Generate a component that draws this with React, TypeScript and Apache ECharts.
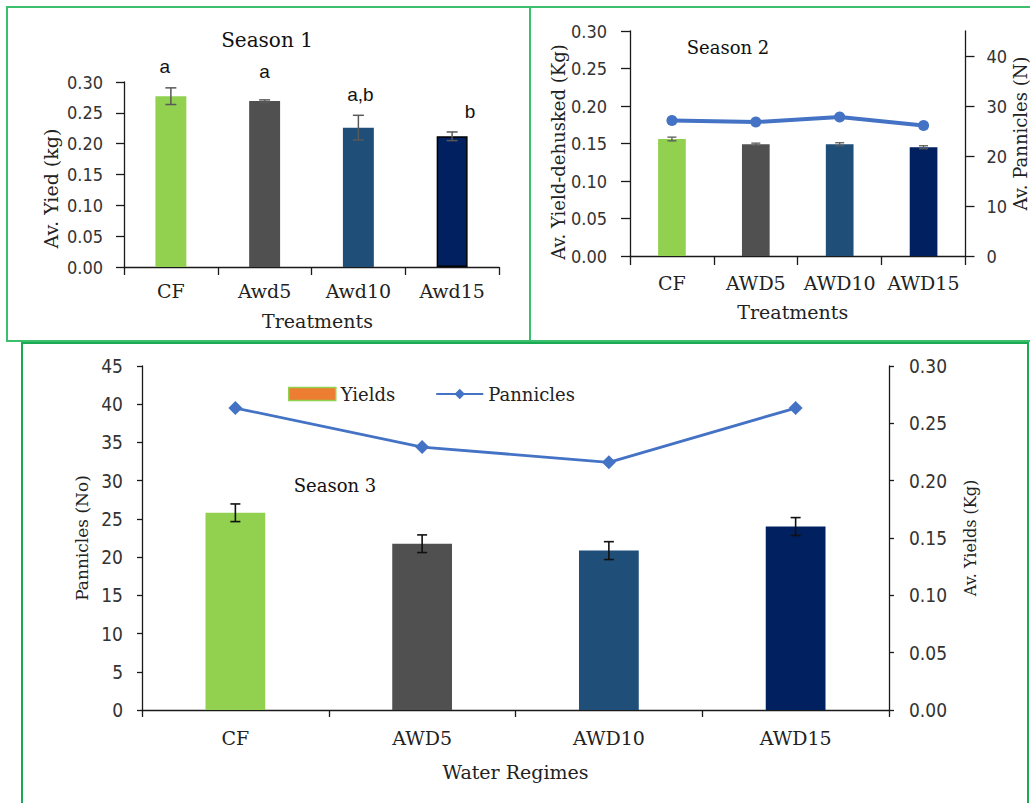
import React, { useEffect, useRef } from 'react';
import * as echarts from 'echarts';

// ---------- data ----------
const s1Categories = ['CF', 'Awd5', 'Awd10', 'Awd15'];
const s1Yield = [0.277, 0.269, 0.226, 0.212];
const s1Error = [0.0135, 0.002, 0.02, 0.007];
const s1Letters = ['a', 'a', 'a,b', 'b'];

const s2Categories = ['CF', 'AWD5', 'AWD10', 'AWD15'];
const s2Yield = [0.156, 0.149, 0.149, 0.145];
const s2Error = [0.0025, 0.0015, 0.002, 0.002];
const s2Panicles = [27.1, 26.8, 27.8, 26.1];

const s3Categories = ['CF', 'AWD5', 'AWD10', 'AWD15'];
const s3Yield = [0.172, 0.145, 0.139, 0.16];
const s3Error = [0.0077, 0.0077, 0.0078, 0.0078];
const s3Panicles = [39.5, 34.4, 32.4, 39.5];

const yieldTicks = [0, 0.05, 0.1, 0.15, 0.2, 0.25, 0.3];
const s2PanicleTicks = [0, 10, 20, 30, 40];

// ---------- styles ----------
const barColors = ['#92D050', '#505050', '#1F4E79', '#002060'];
const LINE_BLUE = '#4472C4';
const SANS_C = '"DejaVu Sans Condensed", "DejaVu Sans", sans-serif';
const SERIF = '"DejaVu Serif", serif';
const AXIS_COLOR = '#1a1a1a';

const errorBars = (xIdx: number, yIdx: number, values: number[], errs: number[], color: string, cap: number, lw: number) => ({
  type: 'custom',
  xAxisIndex: xIdx,
  yAxisIndex: yIdx,
  z: 5,
  silent: true,
  encode: { x: 0, y: [1, 2] },
  data: values.map((v, i) => [i, v - errs[i], v + errs[i]]),
  renderItem: (params: any, api: any) => {
    const x = api.value(0);
    const lo = api.coord([x, api.value(1)]);
    const hi = api.coord([x, api.value(2)]);
    const w = cap / 2;
    const style = { stroke: color, lineWidth: lw };
    return {
      type: 'group',
      children: [
        { type: 'line', shape: { x1: lo[0], y1: lo[1], x2: hi[0], y2: hi[1] }, style },
        { type: 'line', shape: { x1: lo[0] - w, y1: lo[1], x2: lo[0] + w, y2: lo[1] }, style },
        { type: 'line', shape: { x1: hi[0] - w, y1: hi[1], x2: hi[0] + w, y2: hi[1] }, style },
      ],
    };
  },
});

const valueAxis = (o: any) => ({
  type: 'value',
  splitLine: { show: false },
  axisLine: { show: true, lineStyle: { color: AXIS_COLOR, width: 1.3 } },
  axisTick: { show: true, length: o.tickLen ?? 8, lineStyle: { color: AXIS_COLOR, width: 1.3 } },
  nameLocation: 'middle',
  ...o.rest,
  axisLabel: {
    fontFamily: SANS_C,
    fontSize: o.fontSize ?? 18,
    color: '#333',
    margin: o.margin ?? 21,
    ...(o.axisLabel || {}),
  },
});

const catAxis = (o: any) => ({
  type: 'category',
  axisLine: { show: true, lineStyle: { color: AXIS_COLOR, width: 1.3 } },
  axisTick: { show: true, length: o.tickLen ?? 8, lineStyle: { color: AXIS_COLOR, width: 1.3 } },
  axisLabel: { interval: 0, fontFamily: SERIF, fontSize: 19, color: '#222', margin: o.margin ?? 14 },
  nameLocation: 'middle',
  ...o.rest,
});

export default function App() {
  const ref = useRef<HTMLDivElement>(null);

  useEffect(() => {
    if (!ref.current) return;
    const chart = echarts.init(ref.current, undefined, { renderer: 'svg' });

    const option: any = {
      animation: false,
      backgroundColor: '#ffffff',
      grid: [
        { left: 124, right: 1030 - 499, top: 82, bottom: 803 - 267 },
        { left: 630, right: 1030 - 971, top: 31, bottom: 803 - 256 },
        { left: 142, right: 1030 - 889, top: 366, bottom: 803 - 710 },
      ],
      legend: {
        left: 283,
        top: 380,
        itemWidth: 47,
        itemHeight: 13,
        itemGap: 40,
        textStyle: { fontFamily: SERIF, fontSize: 18, color: '#222' },
        data: [
          { name: 'Yields', icon: 'rect', itemStyle: { color: '#ED7D31', borderColor: '#92D050', borderWidth: 1.5 } },
          { name: 'Pannicles' },
        ],
      },
      xAxis: [
        catAxis({
          margin: 14,
          rest: {
            gridIndex: 0,
            data: s1Categories,
            name: 'Treatments',
            nameGap: 44,
            nameTextStyle: { fontFamily: SERIF, fontSize: 19, color: '#222', padding: [0, 0, 0, 12] },
          },
        }),
        catAxis({
          margin: 17,
          tickLen: 9,
          rest: {
            gridIndex: 1,
            data: s2Categories,
            name: 'Treatments',
            nameGap: 46,
            nameTextStyle: { fontFamily: SERIF, fontSize: 19, color: '#222', padding: [0, 10, 0, 0] },
          },
        }),
        catAxis({
          margin: 18,
          tickLen: 7,
          rest: {
            gridIndex: 2,
            data: s3Categories,
            name: 'Water Regimes',
            nameGap: 52,
            nameTextStyle: { fontFamily: SERIF, fontSize: 19, color: '#222' },
          },
        }),
      ],
      yAxis: [
        valueAxis({
          fontSize: 18,
          margin: 21,
          axisLabel: { formatter: (v: number) => v.toFixed(2), customValues: yieldTicks },
          rest: {
            gridIndex: 0,
            min: 0,
            max: 0.3,
            interval: 0.05,
            name: 'Av. Yied (kg)',
            nameGap: 64,
            nameTextStyle: { fontFamily: SERIF, fontSize: 19, color: '#222', padding: [0, 28, 0, 0] },
          },
        }),
        valueAxis({
          fontSize: 18,
          margin: 23,
          tickLen: 9,
          axisLabel: { formatter: (v: number) => v.toFixed(2), customValues: yieldTicks },
          rest: {
            gridIndex: 1,
            min: 0,
            max: 0.3,
            interval: 0.05,
            name: 'Av. Yield-dehusked (Kg)',
            nameGap: 63,
            nameTextStyle: { fontFamily: SERIF, fontSize: 18, color: '#222', padding: [0, 17, 0, 0] },
          },
        }),
        valueAxis({
          fontSize: 18,
          margin: 21,
          tickLen: 9,
          axisLabel: { customValues: s2PanicleTicks },
          rest: {
            gridIndex: 1,
            position: 'right',
            min: 0,
            max: 45,
            interval: 5,
            axisTick: { show: true, length: 9, customValues: s2PanicleTicks, lineStyle: { color: AXIS_COLOR, width: 1.3 } },
            name: 'Av. Pannicles (N)',
            nameGap: 45,
            nameTextStyle: { fontFamily: SERIF, fontSize: 18, color: '#222', padding: [0, 0, 0, 20] },
          },
        }),
        valueAxis({
          fontSize: 19,
          margin: 19,
          tickLen: 5,
          rest: {
            gridIndex: 2,
            min: 0,
            max: 45,
            interval: 5,
            name: 'Pannicles (No)',
            nameGap: 50,
            nameTextStyle: { fontFamily: SERIF, fontSize: 17, color: '#222' },
          },
        }),
        valueAxis({
          fontSize: 19,
          margin: 20,
          tickLen: 5,
          axisLabel: { formatter: (v: number) => v.toFixed(2) },
          rest: {
            gridIndex: 2,
            position: 'right',
            min: 0,
            max: 0.3,
            interval: 0.05,
            name: 'Av. Yields (Kg)',
            nameGap: 73,
            nameTextStyle: { fontFamily: SERIF, fontSize: 16, color: '#222' },
          },
        }),
      ],
      series: [
        {
          name: 'S1 Yield',
          type: 'bar',
          xAxisIndex: 0,
          yAxisIndex: 0,
          barWidth: '33%',
          label: {
            show: true,
            position: 'top',
            distance: 20,
            fontFamily: '"Liberation Sans", Arial, sans-serif',
            fontSize: 19,
            color: '#111',
            formatter: (p: any) => s1Letters[p.dataIndex],
          },
          data: s1Yield.map((v, i) => ({
            value: v,
            itemStyle: {
              color: barColors[i],
              borderColor: i === 3 ? '#000' : barColors[i],
              borderWidth: i === 3 ? 1.5 : 0,
            },
            label: { offset: [[-6, 0], [0, 0], [2, -4], [18, 5]][i] },
          })),
        },
        errorBars(0, 0, s1Yield, s1Error, '#595959', 11, 1.5),
        {
          name: 'S2 Yield',
          type: 'bar',
          xAxisIndex: 1,
          yAxisIndex: 1,
          barWidth: '33%',
          data: s2Yield.map((v, i) => ({ value: v, itemStyle: { color: barColors[i] } })),
        },
        errorBars(1, 1, s2Yield, s2Error, '#595959', 9, 1.3),
        {
          name: 'S2 Pannicles',
          type: 'line',
          xAxisIndex: 1,
          yAxisIndex: 2,
          z: 6,
          symbol: 'circle',
          symbolSize: 11,
          lineStyle: { color: LINE_BLUE, width: 4 },
          itemStyle: { color: LINE_BLUE },
          data: s2Panicles,
        },
        {
          name: 'Yields',
          type: 'bar',
          xAxisIndex: 2,
          yAxisIndex: 4,
          barWidth: '32%',
          itemStyle: { color: '#ED7D31' },
          data: s3Yield.map((v, i) => ({ value: v, itemStyle: { color: barColors[i] } })),
        },
        errorBars(2, 4, s3Yield, s3Error, '#111', 10, 1.6),
        {
          name: 'Pannicles',
          type: 'line',
          xAxisIndex: 2,
          yAxisIndex: 3,
          z: 6,
          symbol: 'diamond',
          symbolSize: 14,
          lineStyle: { color: LINE_BLUE, width: 2.8 },
          itemStyle: { color: LINE_BLUE },
          data: s3Panicles,
        },
      ],
      graphic: [
        { type: 'rect', shape: { x: 7, y: 7, width: 523, height: 334 }, style: { fill: 'none', stroke: '#3cbf6c', lineWidth: 2 } },
        { type: 'rect', shape: { x: 530, y: 7, width: 520, height: 334 }, style: { fill: 'none', stroke: '#3cbf6c', lineWidth: 2 } },
        { type: 'rect', shape: { x: 22, y: 343, width: 1006, height: 480 }, style: { fill: 'none', stroke: '#1aaa55', lineWidth: 2 } },
        {
          type: 'text', x: 267, y: 40,
          style: { text: 'Season 1', font: `20px ${SERIF}`, fill: '#111', align: 'center', verticalAlign: 'middle', textAlign: 'center', textVerticalAlign: 'middle' },
        },
        {
          type: 'text', x: 728, y: 47,
          style: { text: 'Season 2', font: `18px ${SERIF}`, fill: '#111', align: 'center', verticalAlign: 'middle', textAlign: 'center', textVerticalAlign: 'middle' },
        },
        {
          type: 'text', x: 335, y: 485,
          style: { text: 'Season 3', font: `18px ${SERIF}`, fill: '#111', align: 'center', verticalAlign: 'middle', textAlign: 'center', textVerticalAlign: 'middle' },
        },
      ],
    };

    chart.setOption(option);
    return () => chart.dispose();
  }, []);

  return <div ref={ref} style={{ position: 'absolute', left: 0, top: 0, width: 1030, height: 803 }} />;
}
